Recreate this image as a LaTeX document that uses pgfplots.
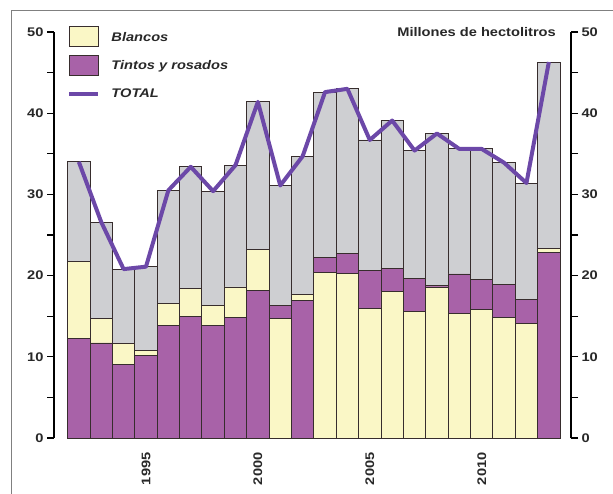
\documentclass[border=0pt]{standalone}
\usepackage{pgfplots}
\pgfplotsset{compat=1.18}
\usepackage{pgfplotstable}
\usepackage{fontspec}
\setmainfont{Liberation Sans}[FakeStretch=1.17]

\definecolor{ylw}{RGB}{250,247,198}
\definecolor{pur}{RGB}{168,98,168}
\definecolor{gry}{RGB}{206,207,210}
\definecolor{totc}{RGB}{108,72,168}
\definecolor{edge}{RGB}{55,45,45}
\definecolor{txt}{RGB}{40,40,40}

\newcommand\lab{\fontsize{12.5bp}{14bp}\selectfont\bfseries}

% p1 = tintos when drawn at the bottom, b = blancos,
% p2 = tintos when drawn above blancos, g = grey part up to the total
\pgfplotstableread{
year p1   b    p2   g
1992 12.3 9.4  0    12.3
1993 11.7 3.0  0    11.9
1994 9.1  2.5  0    9.2
1995 10.2 0.6  0    10.3
1996 13.9 2.7  0    13.9
1997 15.0 3.4  0    15.0
1998 13.9 2.4  0    14.1
1999 14.9 3.7  0    15.0
2000 18.2 5.0  0    18.2
2001 0    14.7 1.6  14.8
2002 16.9 0.8  0    17.0
2003 0    20.4 1.8  20.4
2004 0    20.3 2.4  20.3
2005 0    15.9 4.7  16.1
2006 0    18.1 2.8  18.2
2007 0    15.6 4.0  15.8
2008 0    18.6 0.2  18.7
2009 0    15.3 4.9  15.4
2010 0    15.8 3.7  16.1
2011 0    14.9 4.0  15.0
2012 0    14.1 3.0  14.3
2013 22.8 0.5  0    23.0
}\bars

\pgfplotstableread{
year total
1992 34.0
1993 26.6
1994 20.8
1995 21.1
1996 30.5
1997 33.4
1998 30.4
1999 33.6
2000 41.4
2001 31.1
2002 34.7
2003 42.6
2004 43.0
2005 36.7
2006 39.1
2007 35.4
2008 37.5
2009 35.6
2010 35.6
2011 33.9
2012 31.4
2013 46.3
}\totals

\pgfplotsset{
  common/.style={
    scale only axis, width=517bp, height=406bp,
    xmin=1990.89, xmax=2013.99, ymin=0, ymax=50,
    ytick={0,10,...,50}, minor ytick={5,15,...,45},
    tick align=outside, major tick length=7bp, minor tick length=7bp,
    tick style={line width=1.3bp, black},
    y axis line style={line width=2.6bp, black},
    yticklabel style={font=\lab, text=txt},
    /pgf/number format/assume math mode=true,
  },
  seg/.style={fill=#1, draw=edge, line width=0.9bp},
}

\begin{document}
\begin{tikzpicture}
\useasboundingbox (-54bp,-56bp) rectangle (559bp,438bp);

\begin{axis}[
  common,
  ybar stacked, bar width=1,
  axis y line*=left, axis x line*=bottom,
  x axis line style={draw=none},
  xtick={1995,2000,2005,2010}, xtick style={draw=none},
  xticklabel style={rotate=90, anchor=east, font=\lab, text=txt},
  xticklabel shift=4bp,
  xticklabel={\pgfmathprintnumber[1000 sep=]{\tick}},
]
\addplot[seg=pur] table[x=year, y=p1] {\bars};
\addplot[seg=ylw] table[x=year, y=b] {\bars};
\addplot[seg=pur] table[x=year, y=p2] {\bars};
\addplot[seg=gry] table[x=year, y=g] {\bars};
\end{axis}

\begin{axis}[
  common, clip=false,
  axis y line*=right, axis x line=none,
  legend style={at={(rel axis cs:0.0257,1.0148)}, anchor=north west,
    draw=none, fill=none, inner sep=0pt, row sep=7.5bp,
    font=\lab\itshape, text=txt, nodes={inner sep=0pt},
    /tikz/every odd column/.append style={column sep=11bp}},
  legend cell align=left,
]
\addlegendimage{legend image code/.code={\draw[fill=ylw, draw=edge, line width=1.2bp] (0bp,-9.5bp) rectangle (29bp,10.5bp);}}
\addlegendentry{Blancos}
\addlegendimage{legend image code/.code={\draw[fill=pur, draw=edge, line width=1.2bp] (0bp,-9.5bp) rectangle (29bp,10.5bp);}}
\addlegendentry{Tintos y rosados}
\addlegendimage{legend image code/.code={\path[draw=none, fill=none] (0bp,-9.5bp) rectangle (29bp,10.5bp); \draw[totc, line width=4bp] (0bp,0.5bp) -- (29bp,0.5bp);}}
\addlegendentry{TOTAL}
\addplot[totc, line width=4bp, line join=round, forget plot] table[x=year, y=total] {\totals};
\node[anchor=base east, font=\lab, text=txt] at (rel axis cs:0.9774,0.9884) {Millones de hectolitros};
\end{axis}

\draw[gray, line width=0.8bp] (-43bp,-56bp) -- (-43bp,428bp) -- (559bp,428bp);
\end{tikzpicture}
\end{document}
